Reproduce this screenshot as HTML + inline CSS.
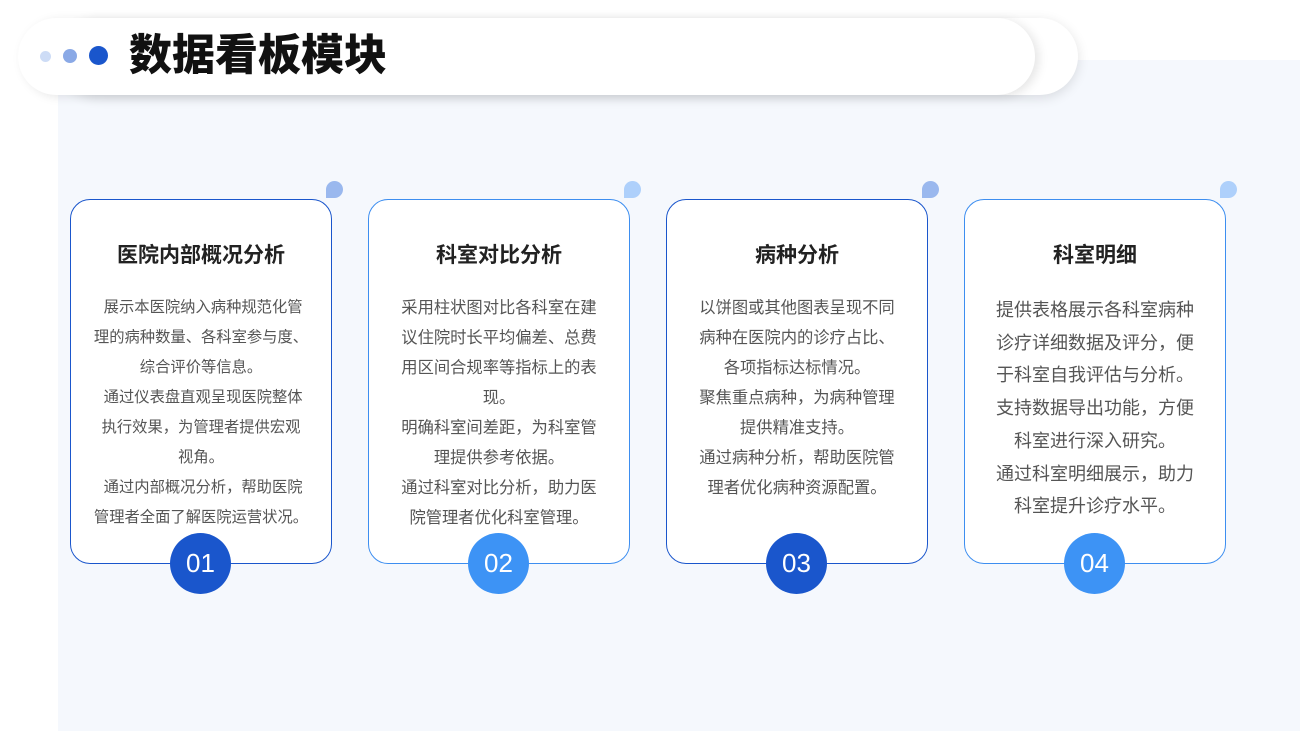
<!DOCTYPE html>
<html><head><meta charset="utf-8"><style>
*{margin:0;padding:0;box-sizing:border-box}
body{width:1300px;height:731px;background:#fff;position:relative;overflow:hidden;font-family:"Liberation Sans","Noto Sans CJK SC",sans-serif}
.panel{position:absolute;left:58px;top:60px;width:1242px;height:671px;background:#f5f8fd}
.pill{position:absolute;top:18px;height:77px;border-radius:39px;background:#fff;box-shadow:0 3px 12px rgba(0,0,0,0.12)}
.dot{position:absolute;border-radius:50%}
h1{position:absolute;left:129px;top:27px;font-size:43px;font-weight:900;color:#111;line-height:58px;white-space:nowrap}
.card{position:absolute;top:199px;width:262px;height:365px;border-radius:20px;background:#fff;border:1.5px solid #1a56cc;text-align:center}
.card.l{border-color:#3d8ef0}
.card h2{font-size:21px;font-weight:700;color:#222;margin-top:40px;line-height:32px}
.card p{font-size:15.3px;color:#555;line-height:30px;white-space:nowrap}
.card .body{margin-top:21px}
.card .b2 p{font-size:16.3px}
.card .b4 p{font-size:18px;line-height:32.7px}
.num{position:absolute;top:533px;width:61px;height:61px;border-radius:50%;background:#1a56cc;color:#fff;font-size:26px;line-height:61px;text-align:center}
.num.l{background:#3d93f5}
.tear{position:absolute;top:181px;width:17px;height:17px;border-radius:9px 9px 9px 0;background:#9ab8ee}
.tear.l{background:#aed0fb}
</style></head><body>
<div class="panel"></div>
<div class="pill" style="left:60px;width:1018px"></div>
<div class="pill" style="left:18px;width:1017px;box-shadow:4px 2px 10px rgba(0,0,0,0.1)"></div>
<div class="dot" style="left:40px;top:51px;width:11px;height:11px;background:#cddcf6"></div>
<div class="dot" style="left:63px;top:49px;width:14px;height:14px;background:#8aa9e6"></div>
<div class="dot" style="left:89px;top:46px;width:19px;height:19px;background:#1a56cc"></div>
<h1>数据看板模块</h1>

<div class="tear" style="left:326px"></div>
<div class="tear l" style="left:624px"></div>
<div class="tear" style="left:922px"></div>
<div class="tear l" style="left:1220px"></div>

<div class="card" style="left:70px"><h2>医院内部概况分析</h2><div class="body">
<p>&nbsp;展示本医院纳入病种规范化管<br>理的病种数量、各科室参与度、<br>综合评价等信息。</p>
<p>&nbsp;通过仪表盘直观呈现医院整体<br>执行效果，为管理者提供宏观<br>视角。</p>
<p>&nbsp;通过内部概况分析，帮助医院<br>管理者全面了解医院运营状况。</p></div></div>

<div class="card l" style="left:368px"><h2>科室对比分析</h2><div class="body b2">
<p>采用柱状图对比各科室在建<br>议住院时长平均偏差、总费<br>用区间合规率等指标上的表<br>现。</p>
<p>明确科室间差距，为科室管<br>理提供参考依据。</p>
<p>通过科室对比分析，助力医<br>院管理者优化科室管理。</p></div></div>

<div class="card" style="left:666px"><h2>病种分析</h2><div class="body b2">
<p>以饼图或其他图表呈现不同<br>病种在医院内的诊疗占比、<br>各项指标达标情况。</p>
<p>聚焦重点病种，为病种管理<br>提供精准支持。</p>
<p>通过病种分析，帮助医院管<br>理者优化病种资源配置。</p></div></div>

<div class="card l" style="left:964px"><h2>科室明细</h2><div class="body b4" style="margin-top:22px">
<p>提供表格展示各科室病种<br>诊疗详细数据及评分，便<br>于科室自我评估与分析。</p>
<p>支持数据导出功能，方便<br>科室进行深入研究。</p>
<p>通过科室明细展示，助力<br>科室提升诊疗水平。</p></div></div>

<div class="num" style="left:170px">01</div>
<div class="num l" style="left:468px">02</div>
<div class="num" style="left:766px">03</div>
<div class="num l" style="left:1064px">04</div>
</body></html>
